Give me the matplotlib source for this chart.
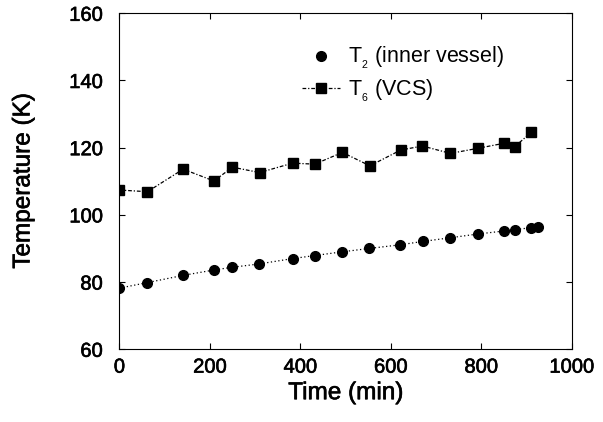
import matplotlib
matplotlib.use("Agg")
import matplotlib.pyplot as plt
import matplotlib.patheffects as pe
from matplotlib.lines import Line2D

plt.rcParams['font.family'] = ['Liberation Sans', 'DejaVu Sans']
plt.rcParams['mathtext.fontset'] = 'custom'
plt.rcParams['mathtext.rm'] = 'Liberation Sans'
plt.rcParams['mathtext.it'] = 'Liberation Sans'

# inner vessel (T2)
t_inner = [0, 60, 141, 209, 249, 309, 383, 432, 492, 552, 621, 671, 732, 792, 850, 874, 911, 925]
T_inner = [78.2, 79.8, 82.0, 83.6, 84.4, 85.4, 87.0, 87.9, 89.0, 90.0, 91.1, 92.1, 93.2, 94.3,
           95.2, 95.6, 96.2, 96.4]

# vapour cooled shield (T6)
t_vcs = [0, 62, 141, 209, 250, 310, 383, 432, 493, 554, 622, 670, 732, 792, 850, 874, 911]
T_vcs = [107.4, 106.9, 113.6, 110.1, 114.2, 112.6, 115.4, 115.1, 118.6, 114.6, 119.3, 120.5,
         118.3, 119.8, 121.3, 120.3, 124.6]

xticks = [0, 200, 400, 600, 800, 1000]
yticks = [60, 80, 100, 120, 140, 160]

thick = [pe.withStroke(linewidth=0.45, foreground='black')]

fig = plt.figure(figsize=(6.03, 4.22), dpi=100)
ax = fig.add_axes([0.198, 0.1723, 0.75, 0.7962])

ax.plot(t_inner, T_inner, color='black', linestyle=(0, (1, 2)), linewidth=0.9,
        marker='o', markersize=7)
ax.plot(t_vcs, T_vcs, color='black', linestyle=(0, (3, 1.5, 1, 1.5)), linewidth=0.9,
        marker='s', markersize=7.5)

ax.set_xlim(0, 1000)
ax.set_ylim(60, 160)
ax.set_xticks(xticks)
ax.set_yticks(yticks)
ax.tick_params(direction='in', top=True, right=True, labelsize=14.5, length=4)
ax.tick_params(axis='x', pad=6)
ax.tick_params(axis='y', pad=12)
for lab in ax.get_xticklabels() + ax.get_yticklabels():
    lab.set_path_effects(thick)
for s in ax.spines.values():
    s.set_linewidth(0.8)

xl = ax.set_xlabel("Time (min)", fontsize=17.5, labelpad=4)
yl = ax.set_ylabel("Temperature (K)", fontsize=17.5, labelpad=25)
xl.set_path_effects(thick)
yl.set_path_effects(thick)

handles = [
    Line2D([], [], color='black', linestyle='none', marker='o', markersize=7),
    Line2D([], [], color='black', linestyle=(0, (3, 1.5, 1, 1.5)), linewidth=0.9,
           marker='s', markersize=7.5),
]
ax.legend(handles, [r"T$_{_2}$ (inner vessel)", r"T$_{_6}$ (VCS)"], loc='upper left',
          bbox_to_anchor=(0.4036, 0.905), frameon=False, fontsize=15.5,
          borderpad=0, borderaxespad=0,
          handlelength=1.75, handletextpad=0.4, labelspacing=0.3)

fig.savefig("out.png", dpi=100)
